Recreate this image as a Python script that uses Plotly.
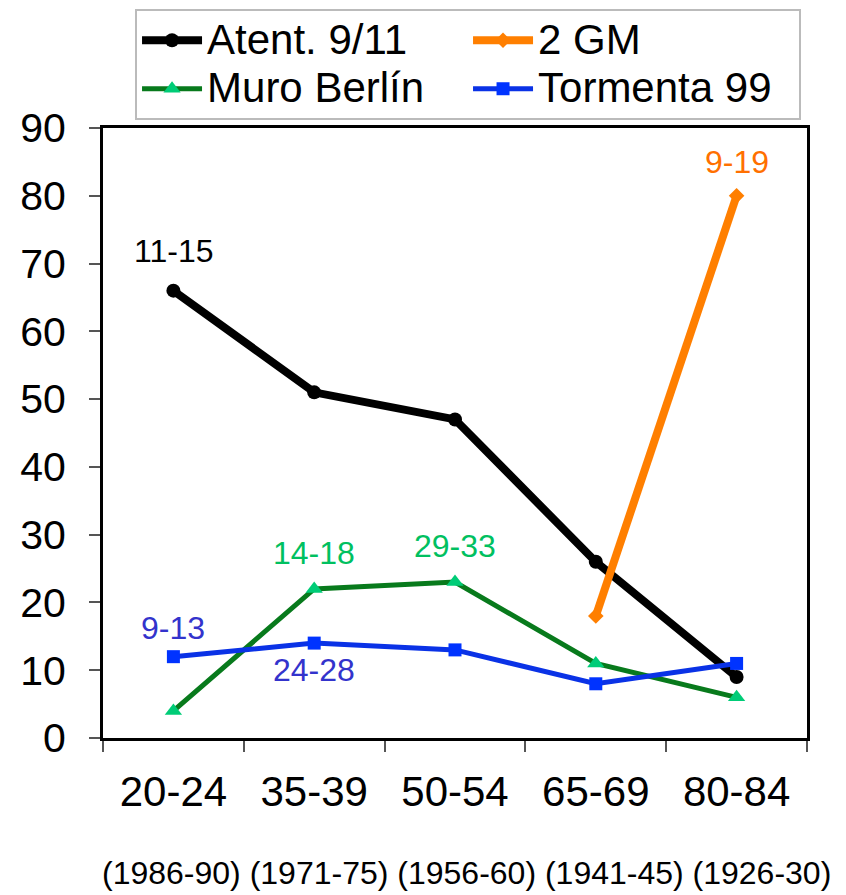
import plotly.graph_objects as go

categories = ["20-24", "35-39", "50-54", "65-69", "80-84"]
periods = ["(1986-90)", "(1971-75)", "(1956-60)", "(1941-45)", "(1926-30)"]

atent = [66, 51, 47, 26, 9]
gm_x = ["65-69", "80-84"]
gm = [18, 80]
muro = [4, 22, 23, 11, 6]
tormenta = [12, 14, 13, 8, 11]

labels = [
    ("20-24", 71.8, "11-15", "#000000"),
    ("80-84", 85.0, "9-19", "#ff7000"),
    ("35-39", 27.3, "14-18", "#00c060"),
    ("50-54", 28.3, "29-33", "#00c060"),
    ("20-24", 16.2, "9-13", "#3333cc"),
    ("35-39", 10.0, "24-28", "#3333cc"),
]

FONT = "Liberation Sans, Arial, sans-serif"


def big(name):
    return '<span style="font-size:42px">' + name + '</span>'


fig = go.Figure()
fig.add_trace(go.Scatter(x=categories, y=atent, name=big("Atent. 9/11"), mode="lines+markers",
                         line=dict(color="#000000", width=8),
                         marker=dict(symbol="circle", size=14, color="#000000")))
fig.add_trace(go.Scatter(x=gm_x, y=gm, name=big("2 GM"), mode="lines+markers",
                         line=dict(color="#ff7f00", width=8),
                         marker=dict(symbol="diamond", size=12, color="#ff7f00")))
fig.add_trace(go.Scatter(x=categories, y=muro, name=big("Muro Berlín"), mode="lines+markers",
                         line=dict(color="#087a1c", width=5),
                         marker=dict(symbol="triangle-up", size=15, color="#00cc77")))
fig.add_trace(go.Scatter(x=categories, y=tormenta, name=big("Tormenta 99"), mode="lines+markers",
                         line=dict(color="#0a32e6", width=5),
                         marker=dict(symbol="square", size=13, color="#0033ff")))

for cx, cy, txt, col in labels:
    fig.add_annotation(x=cx, y=cy, text=txt, showarrow=False, xref="x", yref="y",
                       font=dict(family=FONT, size=32, color=col))

fig.add_annotation(x=0.5163, y=-0.2213, xref="paper", yref="paper", showarrow=False,
                   xanchor="center", yanchor="middle",
                   text=" ".join(periods), font=dict(family=FONT, size=32, color="#000000"))

fig.update_layout(
    width=838, height=887,
    margin=dict(l=95, r=39, t=120, b=157, pad=0, autoexpand=False),
    paper_bgcolor="white", plot_bgcolor="white",
    font=dict(family=FONT, color="#000000"),
    showlegend=True,
    legend=dict(orientation="h", x=0.0455, y=1.1951, xanchor="left", yanchor="top",
                entrywidth=256, font=dict(family=FONT, size=35),
                bordercolor="#bbbbbb", borderwidth=2, bgcolor="white",
                itemwidth=60, tracegroupgap=0),
    xaxis=dict(type="category", categoryorder="array", categoryarray=categories,
               range=[-0.5, 4.5], showgrid=False, zeroline=False, automargin=False,
               showline=True, linecolor="#000000", linewidth=3, mirror=True,
               ticks="outside", tickson="boundaries", ticklen=11, tickwidth=2,
               tickcolor="#555555", ticklabelstandoff=15,
               tickfont=dict(family=FONT, size=42, color="#000000")),
    yaxis=dict(range=[0, 90], dtick=10, showgrid=False, zeroline=False, automargin=False,
               showline=True, linecolor="#000000", linewidth=3, mirror=True,
               ticks="outside", ticklen=11, tickwidth=2, tickcolor="#555555",
               ticklabelstandoff=15,
               tickfont=dict(family=FONT, size=41, color="#000000")),
)

fig.write_html("out.html")
